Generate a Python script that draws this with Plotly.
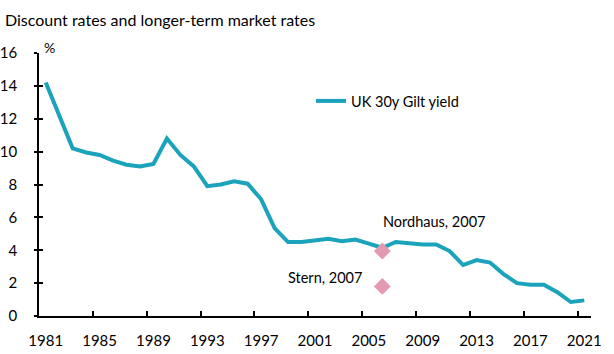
import plotly.graph_objects as go

# ---- data ----
years = list(range(1981, 2022))
gilt_yield = [14.2, 12.2, 10.2, 9.95, 9.8, 9.45, 9.2, 9.1, 9.25, 10.8,
              9.8, 9.1, 7.9, 8.0, 8.2, 8.05, 7.1, 5.35, 4.5, 4.5,
              4.6, 4.7, 4.55, 4.65, 4.4, 4.15, 4.5, 4.4, 4.35, 4.35,
              3.95, 3.1, 3.4, 3.25, 2.55, 2.0, 1.9, 1.9, 1.45, 0.85, 0.95]
study_labels = ["Nordhaus, 2007", "Stern, 2007"]
study_x = [2006, 2006]
study_rates = [3.95, 1.8]
label_years = list(range(1981, 2022, 4))
y_ticks = [0, 2, 4, 6, 8, 10, 12, 14, 16]

FONT = "Lato"
LINE_COL = "#1BA3BC"
DIA_COL = "#E39AB1"

fig = go.Figure()
fig.add_trace(go.Scatter(x=years, y=gilt_yield, mode="lines", name="UK 30y Gilt yield",
                         line=dict(color=LINE_COL, width=4)))
fig.add_trace(go.Scatter(x=study_x, y=study_rates, mode="markers", showlegend=False,
                         marker=dict(symbol="diamond", size=13, color=DIA_COL)))
# invisible trace for secondary tick axes
fig.add_trace(go.Scatter(x=[years[0]], y=[0], xaxis="x2", yaxis="y2", mode="markers",
                         marker=dict(opacity=0), showlegend=False, hoverinfo="skip"))

W, H = 614, 354
L, R, T, B = 39, 23, 53, 38

fig.update_layout(
    width=W, height=H,
    margin=dict(l=L, r=R, t=T, b=B, autoexpand=False),
    paper_bgcolor="white", plot_bgcolor="white",
    font=dict(family=FONT, size=15, color="#000000"),
    title=dict(text="Discount rates and longer-term market rates", x=5 / W, xanchor="left",
               y=1 - 20 / H, yanchor="middle", yref="container",
               font=dict(family=FONT, size=16, color="#000000")),
    xaxis=dict(range=[1980.5, 2021.5], tickvals=label_years, ticktext=[str(v) for v in label_years],
               ticks="", showgrid=False, zeroline=False, showline=True, linecolor="#000000",
               linewidth=1.5, ticklabelstandoff=10, tickfont=dict(size=15), automargin=False),
    xaxis2=dict(range=[1980.5, 2021.5], overlaying="x", tickvals=[v - 0.5 for v in label_years[1:]],
                ticks="inside", ticklen=5, tickwidth=1.5, tickcolor="#000000",
                showticklabels=False, showgrid=False, zeroline=False, showline=False,
                automargin=False),
    yaxis=dict(range=[0, 16], tickvals=y_ticks, ticks="outside", ticklen=3, tickwidth=1.5,
               tickcolor="#000000", showgrid=False, zeroline=False, showline=True,
               linecolor="#000000", linewidth=1.5, ticklabelstandoff=14, tickfont=dict(size=15),
               automargin=False),
    yaxis2=dict(range=[0, 16], overlaying="y", tickvals=y_ticks, ticks="inside", ticklen=4,
                tickwidth=1.5, tickcolor="#000000", showticklabels=False, showgrid=False,
                zeroline=False, showline=False, automargin=False),
    legend=dict(x=(311 - L) / (W - L - R), y=(316 - 85) / 263, xanchor="left", yanchor="top",
                bgcolor="rgba(0,0,0,0)", font=dict(family=FONT, size=14.5)),
    showlegend=True,
)

fig.add_annotation(text="%", xref="paper", yref="paper", x=(49 - L) / (W - L - R), y=1,
                   xanchor="center", yanchor="middle", yshift=6, showarrow=False,
                   font=dict(size=14))
fig.add_annotation(text=study_labels[0], x=study_x[0], y=study_rates[0], showarrow=False,
                   xshift=52, yshift=30, font=dict(size=14.5))
fig.add_annotation(text=study_labels[1], x=study_x[1], y=study_rates[1], showarrow=False,
                   xanchor="right", xshift=-18, yshift=9, font=dict(size=14.5))

fig.write_html("out.html")
